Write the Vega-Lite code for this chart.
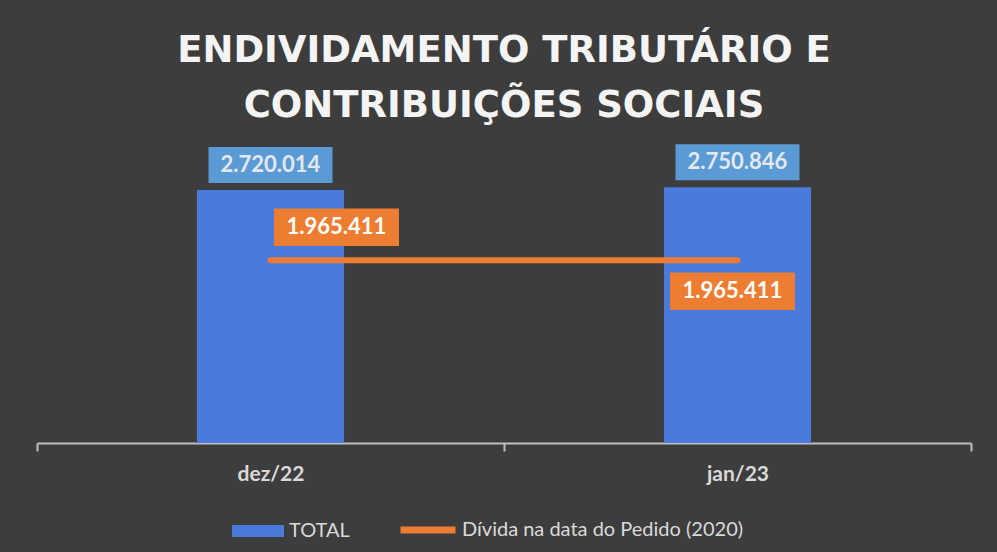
{
  "$schema": "https://vega.github.io/schema/vega-lite/v6.json",
  "autosize": "none",
  "width": 934,
  "height": 279,
  "padding": {"left": 37, "top": 164, "right": 26, "bottom": 109},
  "background": "#3d3d3d",
  "config": {
    "view": {"stroke": null},
    "locale": {"number": {"decimal": ",", "thousands": ".", "grouping": [3], "currency": ["R$ ", ""]}},
    "font": "Lato"
  },
  "title": {
    "text": ["ENDIVIDAMENTO TRIBUTÁRIO E", "CONTRIBUIÇÕES SOCIAIS"],
    "font": "DejaVu Sans",
    "fontSize": 37,
    "fontWeight": "bold",
    "color": "#f4f4f4",
    "lineHeight": 55,
    "anchor": "middle",
    "offset": 19
  },
  "data": {
    "values": [
      {"mes": "dez/22", "serie": "TOTAL", "valor": 2720014},
      {"mes": "jan/23", "serie": "TOTAL", "valor": 2750846},
      {"mes": "dez/22", "serie": "Dívida na data do Pedido (2020)", "valor": 1965411},
      {"mes": "jan/23", "serie": "Dívida na data do Pedido (2020)", "valor": 1965411}
    ]
  },
  "encoding": {
    "x": {
      "field": "mes",
      "type": "nominal",
      "sort": ["dez/22", "jan/23"],
      "scale": {"paddingInner": 0, "paddingOuter": 0},
      "axis": {
        "title": null,
        "labelAngle": 0,
        "labelFont": "Lato",
        "labelFontSize": 21,
        "labelFontWeight": "bold",
        "labelColor": "#d9d9d9",
        "labelPadding": 12,
        "domainColor": "#bfbfbf",
        "domainWidth": 2,
        "tickColor": "#bfbfbf",
        "tickWidth": 2,
        "tickSize": 8,
        "tickBand": "extent"
      }
    },
    "y": {
      "field": "valor",
      "type": "quantitative",
      "scale": {"domain": [0, 3000000]},
      "axis": null
    }
  },
  "layer": [
    {
      "transform": [{"filter": "datum.serie === 'TOTAL'"}],
      "mark": {"type": "bar", "width": {"band": 0.315}},
      "encoding": {
        "fill": {
          "field": "serie",
          "type": "nominal",
          "scale": {"domain": ["TOTAL"], "range": ["#4a7bdc"]},
          "legend": {
            "orient": "none",
            "legendX": 195,
            "legendY": 341,
            "title": null,
            "padding": 0,
            "symbolType": "M-1,-0.23L1,-0.23L1,0.23L-1,0.23Z",
            "symbolSize": 2704,
            "symbolStrokeWidth": 0,
            "labelFont": "Lato",
            "labelFontSize": 20,
            "labelColor": "#d9d9d9",
            "labelOffset": 5,
            "labelLimit": 500
          }
        }
      }
    },
    {
      "transform": [{"filter": "datum.serie === 'TOTAL'"}],
      "mark": {"type": "point", "shape": "M-1,-0.29L1,-0.29L1,0.29L-1,0.29Z", "size": 15376, "filled": true, "fill": "#5b9bd5", "opacity": 1, "strokeWidth": 0, "yOffset": -25}
    },
    {
      "transform": [{"filter": "datum.serie === 'TOTAL'"}],
      "mark": {"type": "text", "yOffset": -25, "baseline": "middle", "align": "center", "font": "Lato", "fontSize": 22, "fontWeight": "bold", "color": "#e4e8ee"},
      "encoding": {"text": {"field": "valor", "type": "quantitative", "format": ",d"}}
    },
    {
      "transform": [{"filter": "datum.serie !== 'TOTAL'"}],
      "mark": {"type": "line", "strokeWidth": 6, "strokeCap": "round"},
      "encoding": {
        "stroke": {
          "field": "serie",
          "type": "nominal",
          "scale": {"domain": ["Dívida na data do Pedido (2020)"], "range": ["#ed7d31"]},
          "legend": {
            "orient": "none",
            "legendX": 360,
            "legendY": 335,
            "title": null,
            "padding": 0,
            "symbolType": "stroke",
            "symbolSize": 3025,
            "symbolStrokeWidth": 7,
            "labelFont": "Lato",
            "labelFontSize": 20,
            "labelColor": "#d9d9d9",
            "labelOffset": 3,
            "labelLimit": 500
          }
        }
      }
    },
    {
      "transform": [{"filter": "datum.serie !== 'TOTAL' && datum.mes === 'dez/22'"}],
      "mark": {"type": "point", "shape": "M-1,-0.3L1,-0.3L1,0.3L-1,0.3Z", "size": 15625, "filled": true, "fill": "#ed7d31", "opacity": 1, "strokeWidth": 0, "xOffset": 66, "yOffset": -33}
    },
    {
      "transform": [{"filter": "datum.serie !== 'TOTAL' && datum.mes === 'dez/22'"}],
      "mark": {"type": "text", "xOffset": 66, "yOffset": -33, "baseline": "middle", "align": "center", "font": "Lato", "fontSize": 22, "fontWeight": "bold", "color": "#ffffff"},
      "encoding": {"text": {"field": "valor", "type": "quantitative", "format": ",d"}}
    },
    {
      "transform": [{"filter": "datum.serie !== 'TOTAL' && datum.mes === 'jan/23'"}],
      "mark": {"type": "point", "shape": "M-1,-0.3L1,-0.3L1,0.3L-1,0.3Z", "size": 15625, "filled": true, "fill": "#ed7d31", "opacity": 1, "strokeWidth": 0, "xOffset": -5, "yOffset": 31}
    },
    {
      "transform": [{"filter": "datum.serie !== 'TOTAL' && datum.mes === 'jan/23'"}],
      "mark": {"type": "text", "xOffset": -5, "yOffset": 31, "baseline": "middle", "align": "center", "font": "Lato", "fontSize": 22, "fontWeight": "bold", "color": "#ffffff"},
      "encoding": {"text": {"field": "valor", "type": "quantitative", "format": ",d"}}
    }
  ]
}
